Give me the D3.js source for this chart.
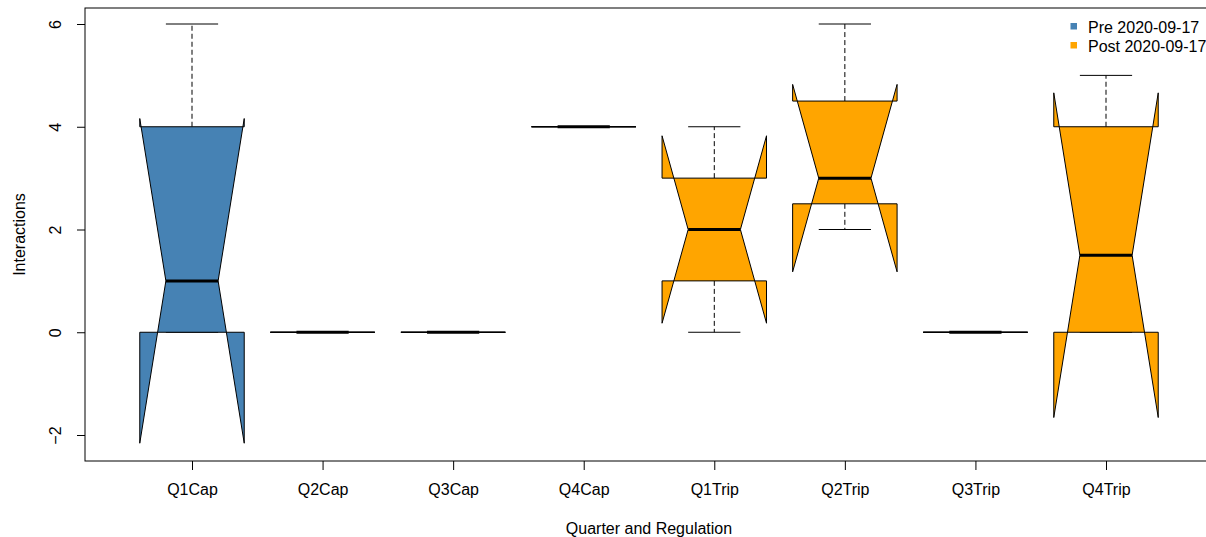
<!DOCTYPE html>
<html>
<head>
<meta charset="utf-8">
<script src="https://cdn.jsdelivr.net/npm/d3@7"></script>
<style>
  body { margin: 0; background: #fff; }
  svg text { font-family: "Liberation Sans", Arial, sans-serif; font-size: 16px; fill: #000; }
</style>
</head>
<body>
<div id="chart"></div>
<script>
// Box Summaries Per Category (whisker / hinge / median / hinge / whisker, n)
const categories = ["Q1Cap", "Q2Cap", "Q3Cap", "Q4Cap", "Q1Trip", "Q2Trip", "Q3Trip", "Q4Trip"];
const periods = ["Pre", "Pre", "Pre", "Pre", "Post", "Post", "Post", "Post"];
const lowerWhisker = [0, 0, 0, 4, 0, 2, 0, 0];
const lowerHinge = [0, 0, 0, 4, 1, 2.5, 0, 0];
const medians = [1, 0, 0, 4, 2, 3, 0, 1.5];
const upperHinge = [4, 0, 0, 4, 3, 4.5, 0, 4];
const upperWhisker = [6, 0, 0, 4, 4, 6, 0, 5];
const counts = [4, 3, 3, 3, 3, 3, 3, 4];
const yTicks = [-2, 0, 2, 4, 6];
const legendLabels = ["Pre 2020-09-17", "Post 2020-09-17"];
const legendKeys = ["Pre", "Post"];
const fillColors = { Pre: "#4682B4", Post: "#FFA500" };

// Dimensions
let w = 1206, h = 537;
let padLeft = 85, padRight = 1213, padTop = 8, padBottom = 461;

let svg = d3.select("#chart").append("svg").attr("width", w).attr("height", h);

// Scales
let xScale = d3.scalePoint().domain(categories).range([192, 1106]);
let yScale = d3.scaleLinear().domain([-2, 6]).range([435, 24]);
let bw = xScale.step() * 0.4, nw = bw / 2, sw = bw / 2;

let boxes = categories.map((c, i) => {
  let notch = 1.58 * (upperHinge[i] - lowerHinge[i]) / Math.sqrt(counts[i]);
  return { name: c, period: periods[i], lw: lowerWhisker[i], lh: lowerHinge[i], med: medians[i],
           uh: upperHinge[i], uw: upperWhisker[i], nlo: medians[i] - notch, nhi: medians[i] + notch };
});

let g = svg.append("g");

// Whiskers And Staples
boxes.forEach((b) => {
  let cx = xScale(b.name);
  [[b.lh, b.lw], [b.uh, b.uw]].forEach(([from, to]) => {
    g.append("line").attr("x1", cx).attr("x2", cx).attr("y1", yScale(from)).attr("y2", yScale(to))
      .attr("stroke", "#000").attr("stroke-dasharray", "5,3");
    g.append("line").attr("x1", cx - sw).attr("x2", cx + sw)
      .attr("y1", yScale(to)).attr("y2", yScale(to)).attr("stroke", "#000");
  });
});

// Notched Boxes
boxes.forEach((b) => {
  let cx = xScale(b.name);
  let pts = [
    [cx - bw, b.lh], [cx - bw, b.nlo], [cx - nw, b.med], [cx - bw, b.nhi], [cx - bw, b.uh],
    [cx + bw, b.uh], [cx + bw, b.nhi], [cx + nw, b.med], [cx + bw, b.nlo], [cx + bw, b.lh]
  ];
  g.append("path").attr("d", d3.line().x((d) => d[0]).y((d) => yScale(d[1]))(pts) + "Z")
    .attr("fill", fillColors[b.period]).attr("stroke", "#000").attr("stroke-width", 1);
  g.append("line").attr("x1", cx - nw).attr("x2", cx + nw).attr("y1", yScale(b.med)).attr("y2", yScale(b.med))
    .attr("stroke", "#000").attr("stroke-width", 3);
});

// Axes
let yAxis = svg.append("g").attr("transform", "translate(" + padLeft + ",0)")
  .call(d3.axisLeft(yScale).tickValues(yTicks).tickSize(8).tickFormat(d3.format("d")));
yAxis.select(".domain").remove();
yAxis.selectAll("line").attr("stroke", "#000");
yAxis.selectAll("text").attr("x", null).attr("dy", null).attr("text-anchor", "middle")
  .attr("transform", "translate(-24,0) rotate(-90)").style("font-size", "16px");
yAxis.attr("font-family", null).attr("font-size", null);

let xAxis = svg.append("g").attr("transform", "translate(0," + padBottom + ")")
  .call(d3.axisBottom(xScale).tickSize(9));
xAxis.select(".domain").remove();
xAxis.selectAll("line").attr("stroke", "#000");
xAxis.selectAll("text").attr("y", 34).attr("dy", null).style("font-size", "16px");
xAxis.attr("font-family", null).attr("font-size", null);

// Frame (right edge falls outside the picture)
svg.append("rect").attr("x", padLeft).attr("y", padTop).attr("width", padRight - padLeft).attr("height", padBottom - padTop)
  .attr("fill", "none").attr("stroke", "#000");

// Axis Titles
svg.append("text").attr("x", (padLeft + padRight) / 2).attr("y", 534).attr("text-anchor", "middle").text("Quarter and Regulation");
svg.append("text").attr("transform", "translate(25," + (padTop + padBottom) / 2 + ") rotate(-90)")
  .attr("text-anchor", "middle").text("Interactions");

// Legend
let legend = svg.append("g");
legendLabels.forEach((lab, i) => {
  legend.append("rect").attr("x", 1070.5).attr("y", 23 + i * 19).attr("width", 6.5).attr("height", 6.5)
    .attr("fill", fillColors[legendKeys[i]]);
  legend.append("text").attr("x", 1088).attr("y", 33 + i * 19).text(lab);
});
</script>
</body>
</html>
